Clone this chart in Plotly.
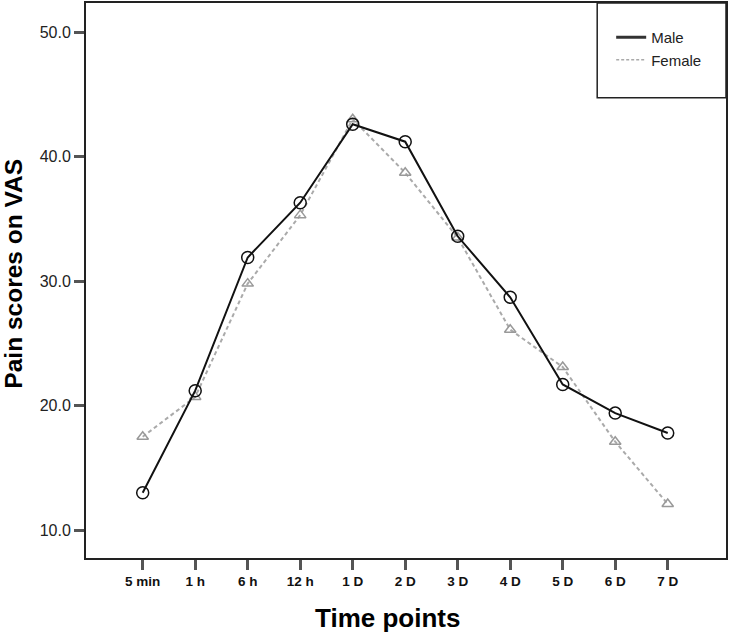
import plotly.graph_objects as go

time_points = ["5 min", "1 h", "6 h", "12 h", "1 D", "2 D", "3 D", "4 D", "5 D", "6 D", "7 D"]
male = [13.0, 21.2, 31.9, 36.3, 42.6, 41.2, 33.6, 28.7, 21.7, 19.4, 17.8]
female = [17.5, 20.7, 29.8, 35.3, 43.0, 38.7, 33.5, 26.1, 23.1, 17.1, 12.1]
y_ticks = [10, 20, 30, 40, 50]

FONT = "Liberation Sans, Arial, sans-serif"
W, H = 729, 632
L, R, T, B = 86, 2, 1, 74
pw, ph = W - L - R, H - T - B

fig = go.Figure()
fig.add_trace(go.Scatter(
    x=time_points, y=female, mode="lines+markers", showlegend=False,
    line=dict(color="#aaaaaa", width=2, dash="4px,3px"),
    marker=dict(symbol="triangle-up-open", size=10, color="#999999", line=dict(width=1.5)),
))
fig.add_trace(go.Scatter(
    x=time_points, y=male, mode="lines+markers", showlegend=False,
    line=dict(color="#111111", width=2),
    marker=dict(symbol="circle-open", size=12, color="#111111", line=dict(width=1.5)),
))
# legend-only entries (lines only)
fig.add_trace(go.Scatter(x=[None], y=[None], mode="lines", name="Male",
                         line=dict(color="#333333", width=3)))
fig.add_trace(go.Scatter(x=[None], y=[None], mode="lines", name="Female",
                         line=dict(color="#aaaaaa", width=1.5, dash="3px,2px")))

# legend box
fig.add_shape(type="rect", xref="paper", yref="paper",
              x0=(598 - L) / pw, x1=1, y0=(ph - 95) / ph, y1=1,
              line=dict(color="#222222", width=1.5), fillcolor="rgba(0,0,0,0)")

fig.add_annotation(text="<b>Pain scores on VAS</b>", xref="paper", yref="paper",
                   x=(12.5 - L) / pw, y=(ph - 272) / ph, textangle=-90,
                   xanchor="center", yanchor="middle", showarrow=False,
                   font=dict(family=FONT, size=24.5, color="#000000"))
fig.add_annotation(text="<b>Time points</b>", xref="paper", yref="paper",
                   x=(387.5 - L) / pw, y=(ph - 617) / ph,
                   xanchor="center", yanchor="middle", showarrow=False,
                   font=dict(family=FONT, size=26, color="#000000"))

fig.update_layout(
    width=W, height=H,
    margin=dict(l=L, r=R, t=T, b=B),
    plot_bgcolor="white", paper_bgcolor="white",
    font=dict(family=FONT, color="#222222"),
    legend=dict(x=(612 - L) / pw, y=(ph - 18) / ph, xanchor="left", yanchor="top",
                bgcolor="rgba(0,0,0,0)", borderwidth=0,
                font=dict(family=FONT, size=15, color="#222222"),
                tracegroupgap=0, itemwidth=30),
)
fig.update_xaxes(
    type="category", range=[-1.08, 11.11],
    showgrid=False, zeroline=False,
    showline=True, linecolor="#222222", linewidth=2, mirror=True,
    ticks="outside", ticklen=10, tickwidth=2.5, tickcolor="#555555",
    tickfont=dict(family=FONT, size=13.5, color="#111111", weight="bold"),
)
fig.update_yaxes(
    range=[7.76, 52.34], tickvals=y_ticks, ticktext=[f"{v:.1f}" for v in y_ticks],
    showgrid=False, zeroline=False,
    showline=True, linecolor="#222222", linewidth=2, mirror=True,
    ticks="outside", ticklen=10, tickwidth=2.5, tickcolor="#555555",
    tickfont=dict(family=FONT, size=16, color="#222222"),
)

fig.write_html("out.html", config={"displayModeBar": False},
               post_script="document.body.style.margin='0';")
